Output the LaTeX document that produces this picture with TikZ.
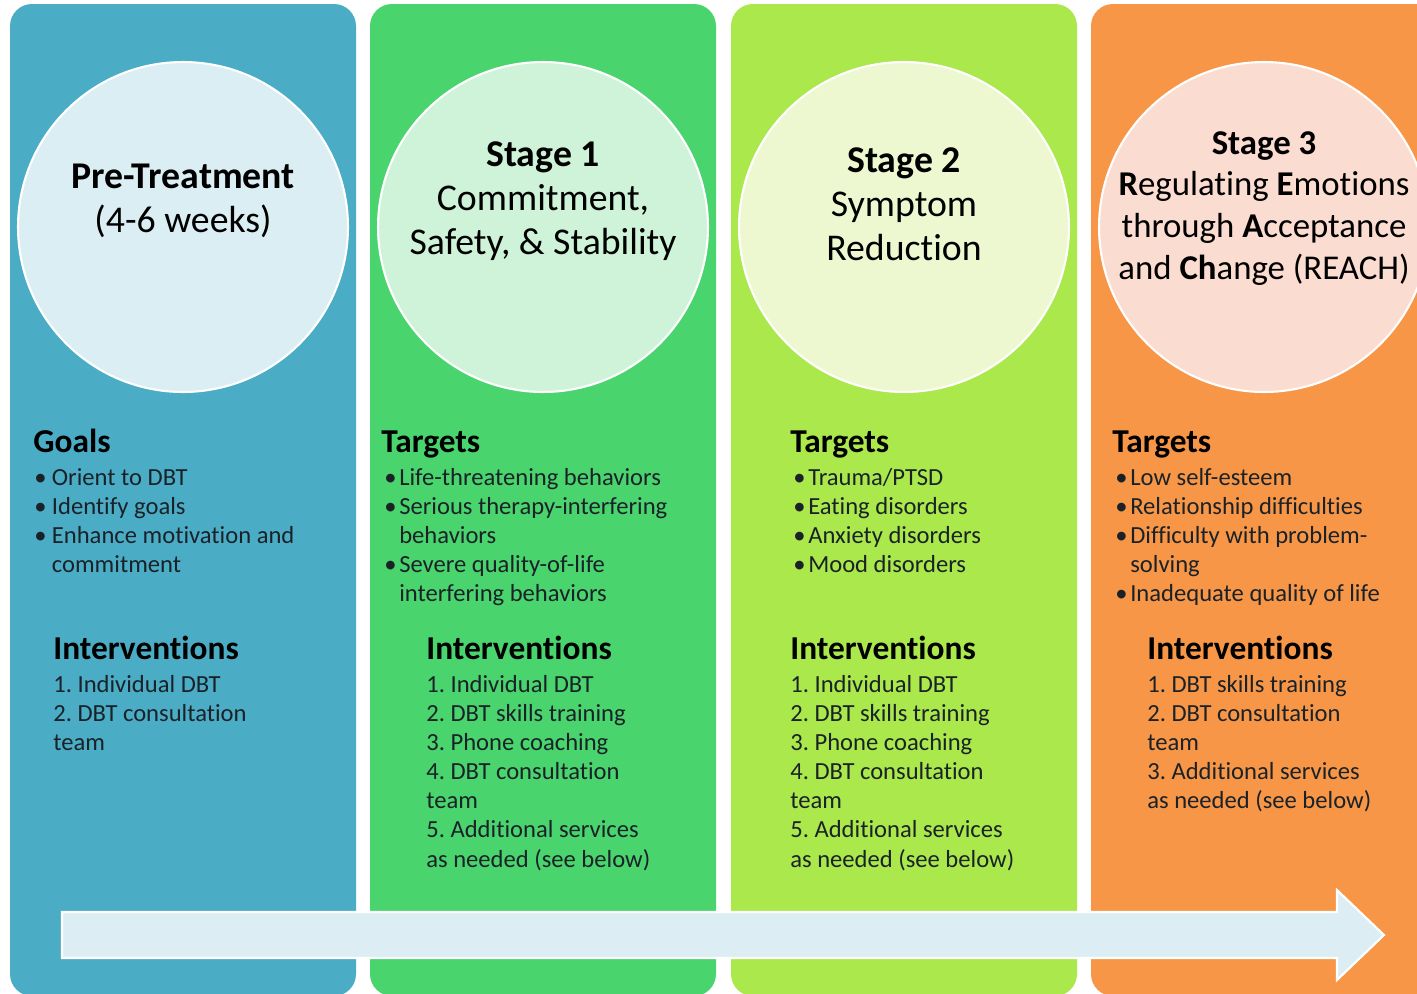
\documentclass[tikz,border=0pt]{standalone}
\usepackage{fontspec}
\setmainfont{Carlito}[Ligatures={NoCommon}]
\frenchspacing

\definecolor{colpre}{HTML}{4BACC6}
\definecolor{colone}{HTML}{49D46E}
\definecolor{coltwo}{HTML}{AAE84B}
\definecolor{colthree}{HTML}{F79646}
\definecolor{circpre}{HTML}{DAEEF3}
\definecolor{circone}{HTML}{CEF3D8}
\definecolor{circtwo}{HTML}{EEF8D0}
\definecolor{circthree}{HTML}{FBDCD1}
\definecolor{arrowfill}{HTML}{DCEEF3}
\definecolor{bodytext}{HTML}{1A2228}

% bullet and hanging indent for the lists
\newlength\bulw
\setlength\bulw{8.5pt}
\newcommand\itm{\makebox[\bulw][l]{•}}
\newcommand\cont{\hspace*{\bulw}}

\begin{document}
\begin{tikzpicture}[x=0.02cm, y=-0.02cm,
    stagecircle/.style={circle, draw=white, line width=1.2pt, minimum size=6.6cm, inner sep=0pt},
    title/.style={anchor=base, inner sep=0pt, font=\fontsize{21.5}{25.2}\selectfont},
    head/.style={anchor=base west, inner sep=0pt, font=\fontsize{19}{22}\selectfont\bfseries},
    items/.style={anchor=base west, inner sep=0pt, text=bodytext, font=\fontsize{14}{16.6}\selectfont},
    timeline/.style={fill=arrowfill, draw=white, line width=1.2pt, line join=miter}]
    \useasboundingbox (0,0) rectangle (1417,994);
    \clip (0,0) rectangle (1417,994);

    % columns and stage circles
    \foreach \cx/\cc/\fc/\nm in {183/colpre/circpre/pre, 543/colone/circone/one,
                                  904/coltwo/circtwo/two, 1264/colthree/circthree/three} {
        \fill[\cc, rounded corners=0.44cm] (\cx-173,4) rectangle (\cx+173,996);
        \node[stagecircle, fill=\fc] (\nm) at (\cx,227) {};
    }

    % circle titles
    \node[title] (tpre) at (183,188) {\parbox[t]{6.4cm}{\centering
        \textbf{Pre-Treatment}\\(4-6 weeks)}};
    \node[title] (tone) at (543,166) {\parbox[t]{6.4cm}{\centering
        \textbf{Stage 1}\\Commitment,\\Safety, \& Stability}};
    \node[title] (ttwo) at (904,172) {\parbox[t]{6.4cm}{\centering
        \textbf{Stage 2}\\Symptom\\Reduction}};
    \node[title, font=\fontsize{19.8}{23.8}\selectfont] (tthree) at (1264,154) {\parbox[t]{6.4cm}{\centering
        \textbf{Stage 3}\\\textbf{R}egulating \textbf{E}motions\\through \textbf{A}cceptance\\and \textbf{Ch}ange (REACH)}};

    % pre-treatment
    \node[head] (goals) at (33,452) {Goals};
    \node[items] (goallist) at (34,485) {\parbox[t]{7cm}{\setlength\bulw{10pt}\itm Orient to DBT\\
        \itm Identify goals\\ \itm Enhance motivation and\\ \cont commitment}};
    \node[head] (intpre) at (53,659) {Interventions};
    \node[items] (intprelist) at (53,692) {\parbox[t]{7cm}{1. Individual DBT\\
        2. DBT consultation\\ team}};

    % stage 1
    \node[head] (tgtone) at (381,452) {Targets};
    \node[items] (tgtonelist) at (384,485) {\parbox[t]{7cm}{\itm Life-threatening behaviors\\
        \itm Serious therapy-interfering\\ \cont behaviors\\
        \itm Severe quality-of-life\\ \cont interfering behaviors}};
    \node[head] (intone) at (426,659) {Interventions};
    \node[items] (intonelist) at (426,692) {\parbox[t]{7cm}{1. Individual DBT\\
        2. DBT skills training\\ 3. Phone coaching\\ 4. DBT consultation\\ team\\
        5. Additional services\\ as needed (see below)}};

    % stage 2
    \node[head] (tgttwo) at (790,452) {Targets};
    \node[items] (tgttwolist) at (793,485) {\parbox[t]{7cm}{\itm Trauma/PTSD\\
        \itm Eating disorders\\ \itm Anxiety disorders\\ \itm Mood disorders}};
    \node[head] (inttwo) at (790,659) {Interventions};
    \node[items] (inttwolist) at (790,692) {\parbox[t]{7cm}{1. Individual DBT\\
        2. DBT skills training\\ 3. Phone coaching\\ 4. DBT consultation\\ team\\
        5. Additional services\\ as needed (see below)}};

    % stage 3
    \node[head] (tgtthree) at (1112,452) {Targets};
    \node[items] (tgtthreelist) at (1115,485) {\parbox[t]{7cm}{\itm Low self-esteem\\
        \itm Relationship difficulties\\ \itm Difficulty with problem-\\ \cont solving\\
        \itm Inadequate quality of life}};
    \node[head] (intthree) at (1147,659) {Interventions};
    \node[items] (intthreelist) at (1147,692) {\parbox[t]{7cm}{1. DBT skills training\\
        2. DBT consultation\\ team\\ 3. Additional services\\ as needed (see below)}};

    % progress arrow along the bottom
    \coordinate (tail) at (62,935);
    \coordinate (tip) at (1384,935);
    \draw[timeline] (62,912) -- (1337,912) -- (1337,890) -- (tip)
        -- (1337,980) -- (1337,958) -- (62,958) -- cycle;
\end{tikzpicture}
\end{document}
